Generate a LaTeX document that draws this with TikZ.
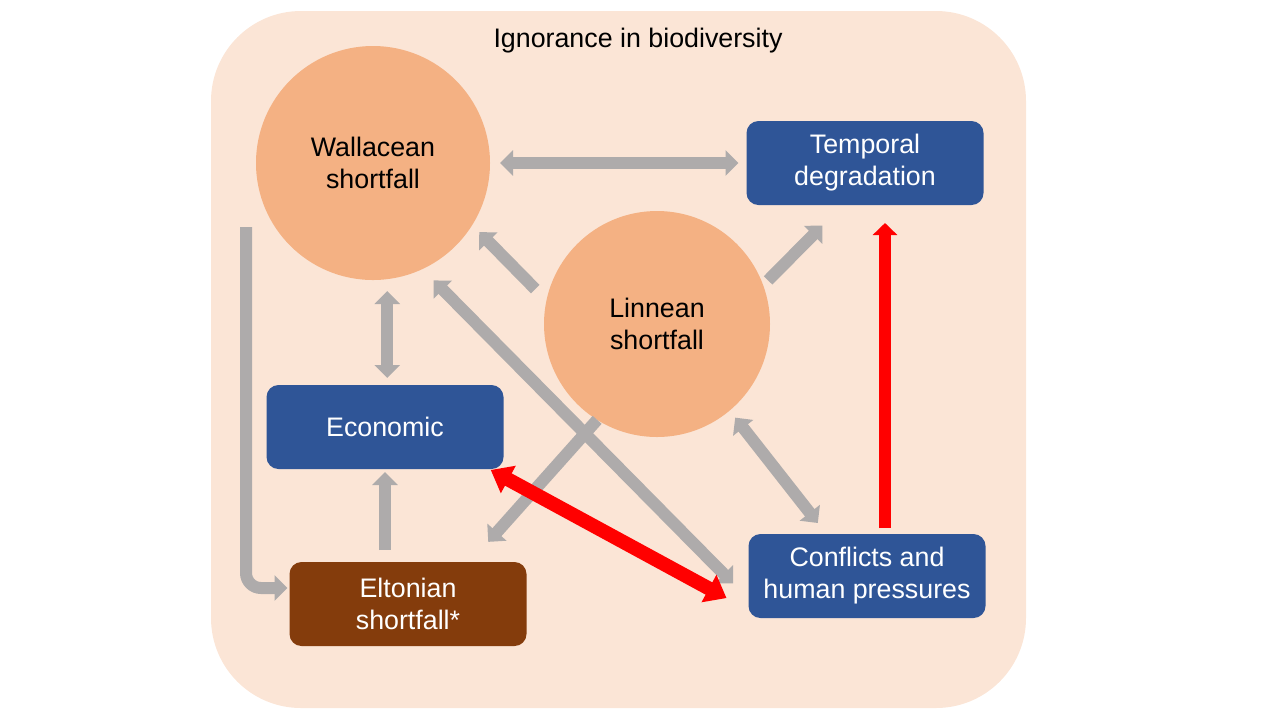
\documentclass[tikz,border=0pt]{standalone}
\usepackage{fontspec}
\setmainfont{Liberation Sans}
\usepackage{xcolor}
\usetikzlibrary{arrows.meta}
\definecolor{bgpeach}{HTML}{FBE5D6}
\definecolor{circpeach}{HTML}{F4B183}
\definecolor{boxblue}{HTML}{2F5597}
\definecolor{boxbrown}{HTML}{843C0C}
\definecolor{arrgray}{HTML}{AEABAB}
\newcommand\lblfont{\fontsize{13.4}{16}\selectfont}

\begin{document}
\begin{tikzpicture}[x=0.5pt,y=-0.5pt,>={Triangle[width=12.5pt,length=6.5pt]},
  gap/.style={circle,fill=circpeach,minimum size=117pt,inner sep=0pt,outer sep=0pt,align=center,font=\lblfont},
  factor/.style={rectangle,rounded corners=6pt,fill=boxblue,text=white,minimum width=118.5pt,minimum height=42pt,inner sep=0pt,outer sep=0pt,align=center,font=\lblfont},
  garrow/.style={draw=arrgray,line width=6pt},
  redarrow/.style={draw=red,line width=7pt}]
  \useasboundingbox (0,0) rectangle (1280,720);
  \fill[bgpeach,rounded corners=45pt] (211,11) rectangle (1026,708);
  \node[font=\lblfont,anchor=base] (ttl) at (638,47) {Ignorance in biodiversity};
  % shortfalls and factors
  \node[gap] (wal) at (373,163) {Wallacean\\shortfall};
  \node[gap,minimum size=113pt] (lin) at (657,324) {Linnean\\shortfall};
  \node[factor] (tmp) at (865,163) {Temporal\\degradation};
  \node[factor] (eco) at (385,427) {Economic};
  \node[factor] (con) at (867,576) {Conflicts and\\human pressures};
  \node[factor,fill=boxbrown] (elt) at (408,604) {Eltonian\\shortfall*};
  % grey links
  \draw[garrow,<->,shorten <=5pt,shorten >=4pt] (wal.east) -- (tmp.west);
  \draw[garrow,->,shorten <=8pt,shorten >=5pt] (lin.168) -- (wal.-32);
  \draw[garrow,->,shorten <=3.5pt,shorten >=14.5pt] (lin.20) -- (tmp.-118);
  \draw[garrow,<->,shorten <=6pt,shorten >=3.5pt] (wal.-83) -- (wal.-83 |- eco.north);
  \draw[garrow,<->,shorten <=8pt,shorten >=11pt] (wal.-65) -- (con.-169);
  \draw[garrow,->,shorten >=13.5pt] (lin.-122) -- (elt.34);
  \draw[garrow,<->,shorten <=4.5pt,shorten >=7pt] (lin.-50) -- (con.134);
  \draw[garrow,->,shorten <=6pt,shorten >=1.5pt] (eco.south |- elt.north) -- (eco.south);
  \draw[garrow,->,rounded corners=7.5pt,shorten >=1pt] ([xshift=-5pt,yshift=-32pt]wal.west) |- ([yshift=8pt]elt.west);
  % red links
  \draw[redarrow,{Triangle[width=15pt,length=10pt]}-{Triangle[width=15pt,length=10pt]},shorten <=1pt,shorten >=12.5pt] (eco.-22) -- (con.-164);
  \draw[redarrow,line width=6.3pt,-{Triangle[width=12pt,length=6pt]},shorten <=3pt,shorten >=9pt] ([xshift=9pt]con.north) -- ([xshift=9pt]con.north |- tmp.south);
\end{tikzpicture}
\end{document}
